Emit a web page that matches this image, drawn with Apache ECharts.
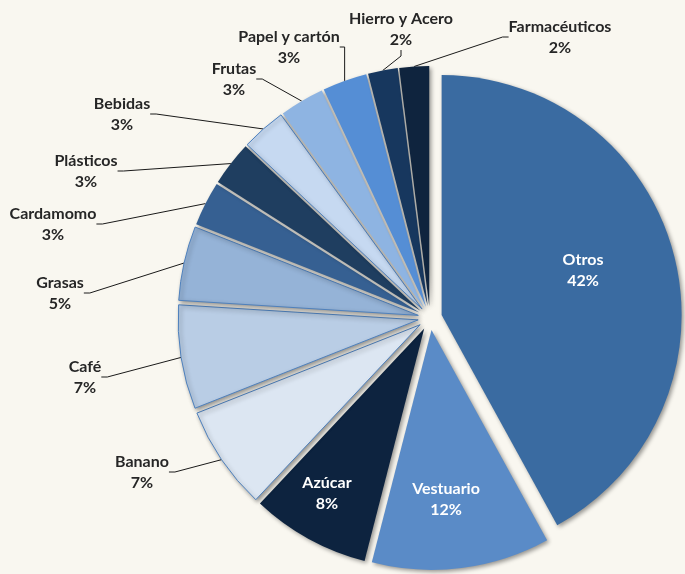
<!DOCTYPE html>
<html>
<head>
<meta charset="utf-8">
<script src="https://cdn.jsdelivr.net/npm/echarts@6/dist/echarts.min.js"></script>
<style>
  html, body { margin: 0; padding: 0; background: #f9f7f0; }
  #chart { width: 685px; height: 574px; }
</style>
</head>
<body>
<div id="chart"></div>
<script>
const categories = ['Otros', 'Vestuario', 'Azúcar', 'Banano', 'Café', 'Grasas', 'Cardamomo',
  'Plásticos', 'Bebidas', 'Frutas', 'Papel y cartón', 'Hierro y Acero', 'Farmacéuticos']
const shares = [42, 12, 8, 7, 7, 5, 3, 3, 3, 3, 3, 2, 2]

const colors = ['#3a6ba1', '#5a8bc7', '#0d233f', '#dce6f2', '#b9cde5', '#95b3d7', '#366092',
  '#1f3e60', '#c6d9f1', '#8eb4e2', '#558ed5', '#17375e', '#0f243e']
const outlined = ['Banano', 'Café', 'Grasas', 'Bebidas']
const insideLabels = ['Otros', 'Vestuario', 'Azúcar']

// label block centres (text placement, as in the original)
const labelPos = {
  'Otros': [583, 270],
  'Vestuario': [446, 499],
  'Azúcar': [327, 493],
  'Banano': [142, 472],
  'Café': [85, 377],
  'Grasas': [60, 293],
  'Cardamomo': [53, 224],
  'Plásticos': [86, 171],
  'Bebidas': [122, 114],
  'Frutas': [234, 79],
  'Papel y cartón': [289, 47],
  'Hierro y Acero': [401, 29],
  'Farmacéuticos': [560, 37]
}

const chart = echarts.init(document.getElementById('chart'))

// exploded slices
const sliceData = categories.map((name, i) => {
  const itemStyle = {
    color: colors[i],
    borderColor: outlined.includes(name) ? '#4f81bd' : colors[i],
    borderWidth: outlined.includes(name) ? 1 : 0,
    shadowBlur: 4,
    shadowOffsetX: 2,
    shadowOffsetY: 2,
    shadowColor: 'rgba(0, 0, 0, 0.4)'
  }
  return { name, value: shares[i], selected: true, itemStyle, select: { itemStyle } }
})

// same pie, invisible, only carries the labels and leader lines
const labelData = categories.map((name, i) => {
  const inside = insideLabels.includes(name)
  return {
    name,
    value: shares[i],
    label: inside
      ? { position: 'inside', color: '#ffffff' }
      : { position: 'outer', color: '#262626' },
    labelLine: { show: !inside }
  }
})

const option = {
  backgroundColor: '#f9f7f0',
  animation: false,
  series: [
    {
      type: 'pie',
      center: [430, 318],
      radius: 240,
      startAngle: 90,
      clockwise: true,
      selectedMode: 'multiple',
      selectedOffset: 12,
      label: { show: false },
      labelLine: { show: false },
      data: sliceData,
      emphasis: { disabled: true }
    },
    {
      type: 'pie',
      center: [430, 318],
      radius: 252,
      startAngle: 90,
      clockwise: true,
      silent: true,
      avoidLabelOverlap: false,
      itemStyle: { color: 'rgba(0,0,0,0)', borderWidth: 0 },
      data: labelData,
      label: {
        formatter: '{b}\n{c}%',
        fontFamily: 'Lato',
        fontWeight: 'bold',
        fontSize: 16,
        lineHeight: 21,
        align: 'center'
      },
      labelLine: {
        length: 10,
        length2: 6,
        lineStyle: { color: '#1a1a1a', width: 1 }
      },
      labelLayout: (params) => {
        const p = labelPos[categories[params.dataIndex]]
        return { x: p[0], y: p[1], align: 'center', verticalAlign: 'middle' }
      },
      emphasis: { disabled: true }
    }
  ]
}

chart.setOption(option)
</script>
</body>
</html>
